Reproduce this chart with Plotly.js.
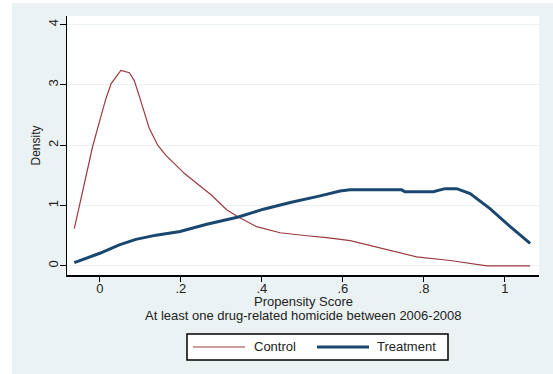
<!DOCTYPE html>
<html><head><meta charset="utf-8">
<script src="https://cdn.plot.ly/plotly-3.0.1.min.js"></script>
<style>html,body{margin:0;padding:0;background:#fff;}#chart{width:553px;height:374px;}</style>
</head><body><div id="chart"></div>
<script>
// Control (red) density curve
var controlX = [-0.063,-0.051,-0.038,-0.018,0.0,0.015,0.028,0.04,0.052,0.073,0.085,0.098,0.11,0.122,0.143,0.163,0.188,0.209,0.239,0.276,0.313,0.342,0.387,0.445,0.511,0.56,0.618,0.642,0.7,0.782,0.865,0.955,1.062];
var controlY = [0.62,0.98,1.42,1.97,2.41,2.77,3.02,3.13,3.24,3.2,3.07,2.8,2.52,2.28,2.0,1.83,1.67,1.53,1.37,1.17,0.93,0.81,0.65,0.55,0.50,0.47,0.42,0.38,0.29,0.15,0.09,0.0,0.0];
// Treatment (navy) density curve
var treatX = [-0.063,0.0,0.048,0.089,0.139,0.198,0.264,0.342,0.404,0.47,0.544,0.593,0.618,0.642,0.745,0.753,0.823,0.852,0.881,0.914,0.963,1.013,1.062];
var treatY = [0.055,0.21,0.35,0.44,0.51,0.57,0.69,0.81,0.94,1.05,1.16,1.24,1.26,1.26,1.26,1.23,1.23,1.28,1.28,1.20,0.95,0.65,0.375];
var xTicks = [0,0.2,0.4,0.6,0.8,1];
var xTickText = ["0",".2",".4",".6",".8","1"];
var yTicks = [0,1,2,3,4];
var yTickText = ["0","1","2","3","4"];
var seriesNames = ["Control", "Treatment"];
var seriesColors = ['#9b3a40', '#1a476f'];
var seriesWidths = [1.2, 3];

var font = "Liberation Sans, Arial, sans-serif";
var traces = [
  {x: controlX, y: controlY, type: 'scatter', mode: 'lines', name: seriesNames[0],
   line: {color: seriesColors[0], width: seriesWidths[0]}},
  {x: treatX, y: treatY, type: 'scatter', mode: 'lines', name: seriesNames[1],
   line: {color: seriesColors[1], width: seriesWidths[1]}}
];
// pixel helpers for paper coordinates (plot area: x 67..539, y 16..275)
function px(p) { return (p - 67) / 472; }
function py(p) { return (275 - p) / 259; }
var legY = py(347);
var layout = {
  width: 553, height: 374,
  margin: {l: 67, r: 14, t: 16, b: 99},
  paper_bgcolor: '#eaf2f3',
  plot_bgcolor: '#ffffff',
  font: {family: font, size: 12, color: '#222'},
  showlegend: false,
  xaxis: {range: [-0.081, 1.084], tickvals: xTicks, ticktext: xTickText,
    showgrid: false, zeroline: false, showline: true, linecolor: '#000', linewidth: 1.5,
    ticks: 'outside', ticklen: 5, tickcolor: '#000', tickfont: {size: 13}, ticklabelstandoff: -4},
  yaxis: {range: [-0.15, 4.14], tickvals: yTicks, ticktext: yTickText, tickangle: -90,
    showgrid: true, gridcolor: '#eaf2f3', gridwidth: 1, zeroline: false,
    showline: true, linecolor: '#000', linewidth: 1.5, ticklabelstandoff: -4,
    ticks: 'outside', ticklen: 6, tickcolor: '#000', tickfont: {size: 13}},
  annotations: [
    {xref: 'paper', yref: 'paper', x: px(35), y: 0.5, xanchor: 'center', yanchor: 'middle', textangle: -90,
     showarrow: false, text: 'Density', font: {size: 12, color: '#222'}},
    {xref: 'paper', yref: 'paper', x: 0.5, y: py(301), yanchor: 'middle', showarrow: false,
     text: 'Propensity Score', font: {size: 13, color: '#222'}},
    {xref: 'paper', yref: 'paper', x: 0.5, y: py(315), yanchor: 'middle', showarrow: false,
     text: 'At least one drug-related homicide between 2006-2008', font: {size: 13, color: '#222'}},
    {xref: 'paper', yref: 'paper', x: px(252), y: legY, xanchor: 'left', yanchor: 'middle', showarrow: false,
     text: seriesNames[0], font: {size: 13, color: '#222'}},
    {xref: 'paper', yref: 'paper', x: px(375), y: legY, xanchor: 'left', yanchor: 'middle', showarrow: false,
     text: seriesNames[1], font: {size: 13, color: '#222'}}
  ],
  shapes: [
    {type: 'rect', xref: 'paper', yref: 'paper', x0: -0.2, x1: px(12), y0: -0.5, y1: 1.2,
     fillcolor: '#ffffff', line: {width: 0}, layer: 'below'},
    {type: 'rect', xref: 'paper', yref: 'paper', x0: -0.2, x1: 1.2, y0: py(3), y1: 1.2,
     fillcolor: '#ffffff', line: {width: 0}, layer: 'below'},
    {type: 'rect', xref: 'paper', yref: 'paper', x0: px(187), x1: px(448), y0: py(360), y1: py(334),
     fillcolor: '#ffffff', line: {color: '#000', width: 1.5}},
    {type: 'line', xref: 'paper', yref: 'paper', x0: px(193), x1: px(245), y0: legY, y1: legY,
     line: {color: seriesColors[0], width: seriesWidths[0]}},
    {type: 'line', xref: 'paper', yref: 'paper', x0: px(317), x1: px(369), y0: legY, y1: legY,
     line: {color: seriesColors[1], width: seriesWidths[1]}}
  ]
};
Plotly.newPlot('chart', traces, layout, {displayModeBar: false, staticPlot: true});
</script></body></html>
